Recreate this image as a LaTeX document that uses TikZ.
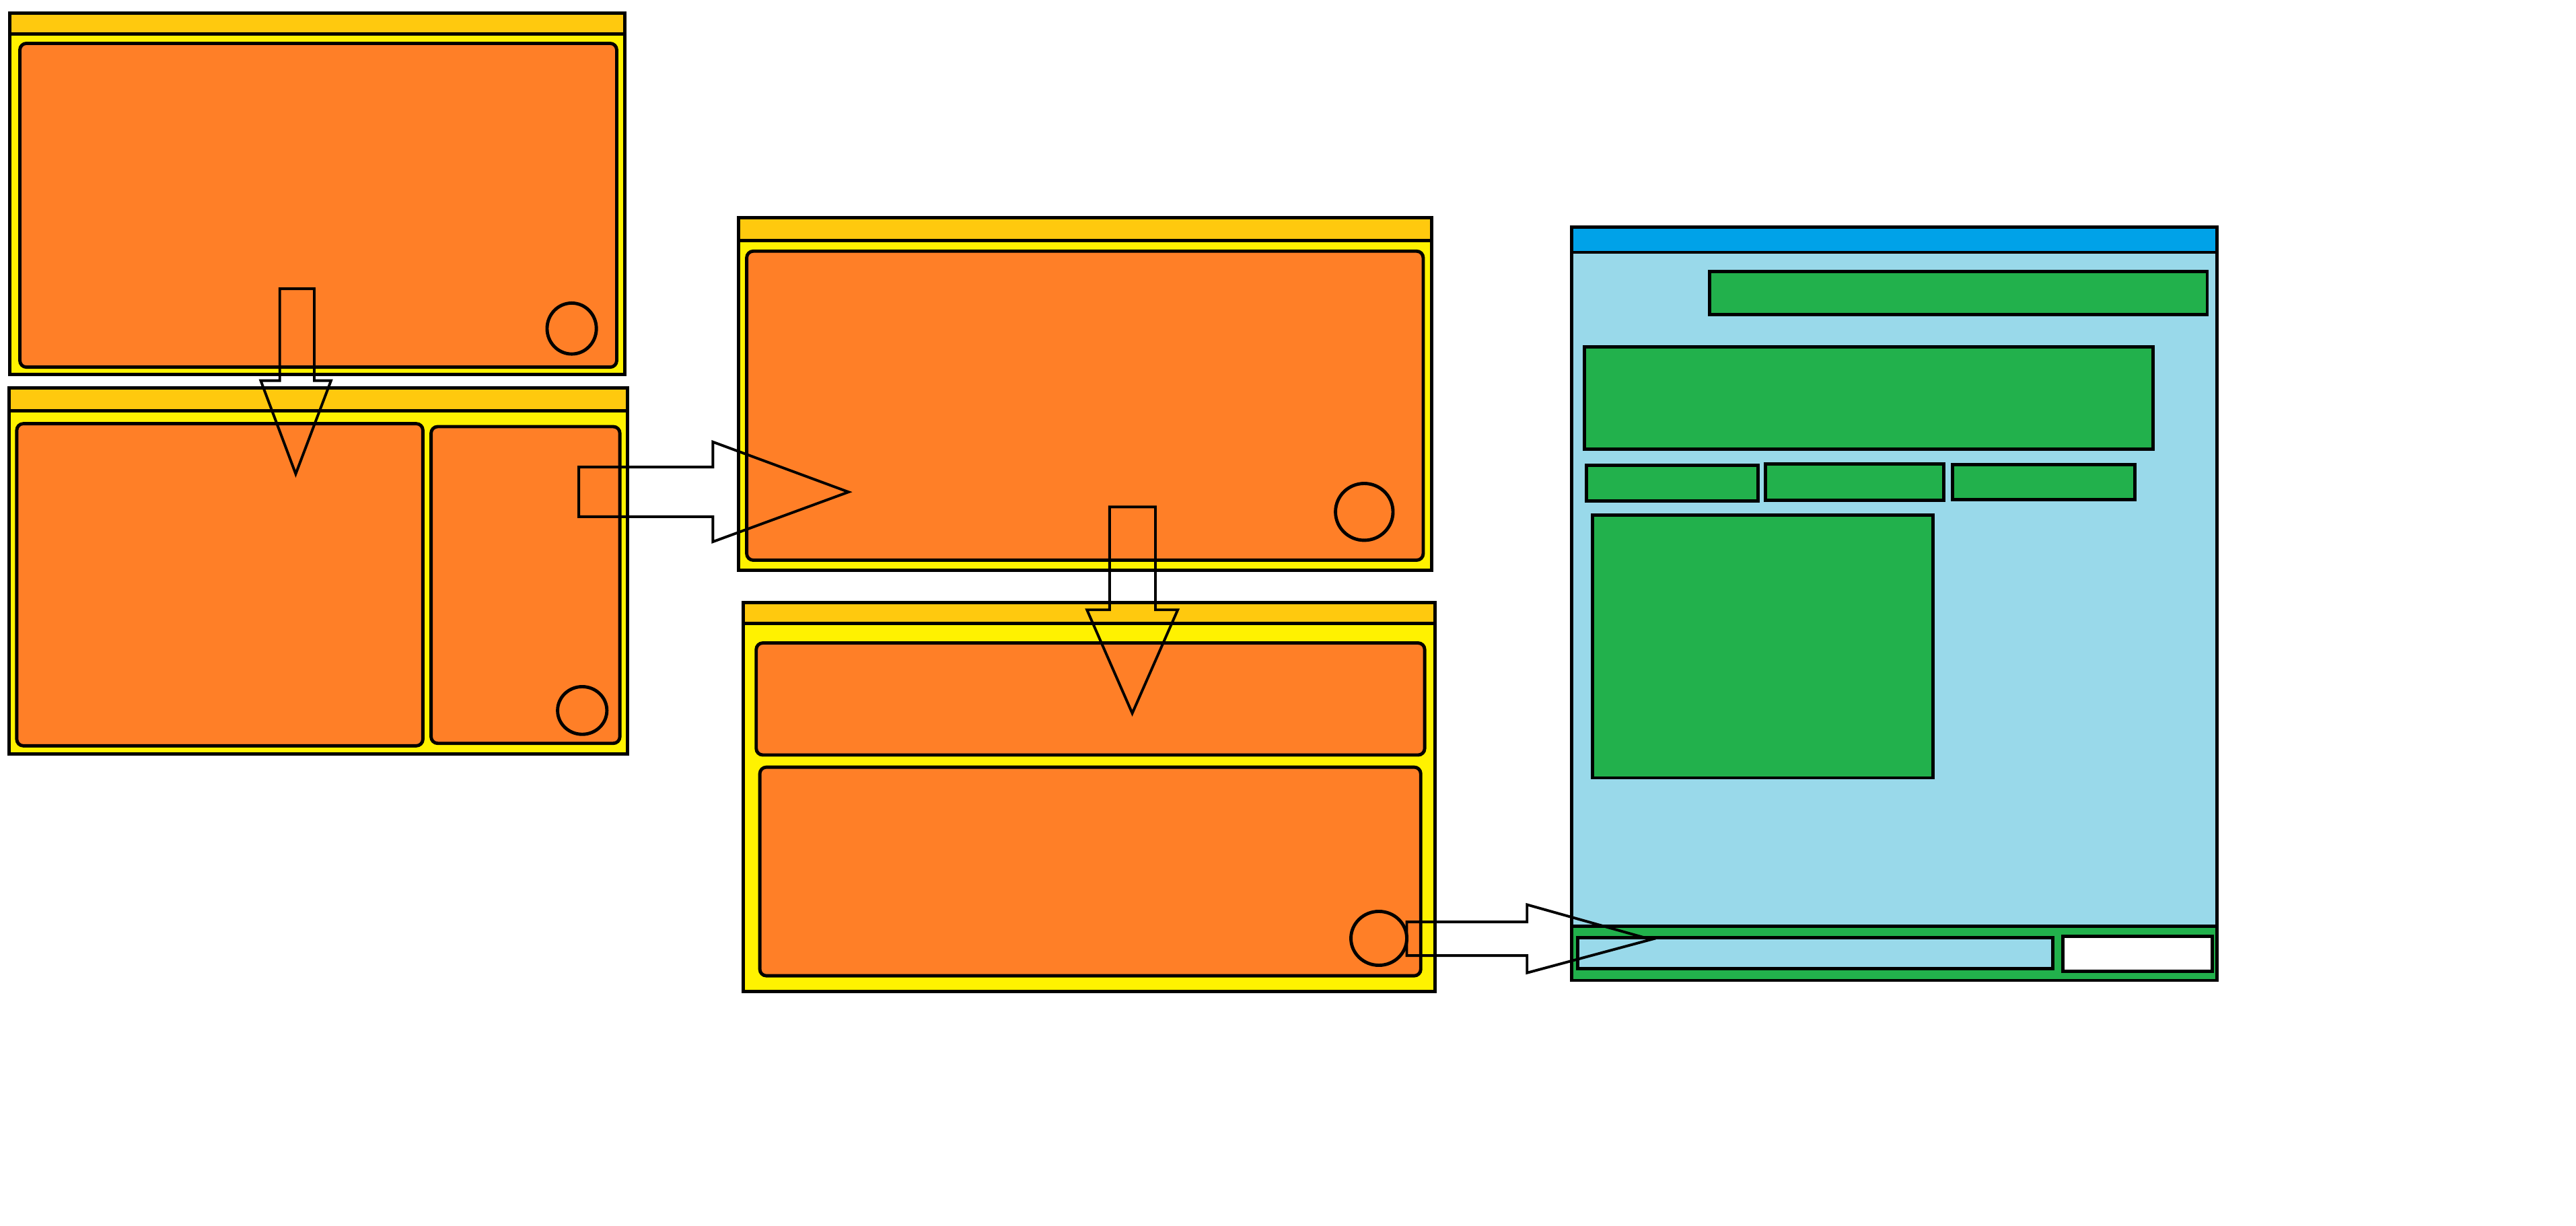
\documentclass[tikz,border=0pt]{standalone}
\usetikzlibrary{shapes.geometric}
\definecolor{ttl}{HTML}{FFC90E}
\definecolor{bdy}{HTML}{FFF200}
\definecolor{org}{HTML}{FF7F27}
\definecolor{bttl}{HTML}{00A2E8}
\definecolor{lblue}{HTML}{99D9EA}
\definecolor{grn}{HTML}{22B14C}
\tikzset{
  edge/.style={draw=black, line width=2pt},
  frame/.style={edge, fill=bdy},
  titlebar/.style={edge, fill=ttl},
  pane/.style={edge, fill=org, rounded corners=4pt},
  knob/.style={edge, ellipse, inner sep=0pt, outer sep=0pt},
  blockarrow/.style={draw=black, line width=1.6pt, line join=miter},
  widget/.style={edge, fill=grn},
}
\begin{document}
\begin{tikzpicture}[x=1pt,y=-1pt]
\useasboundingbox (0,0) rectangle (1568,746.3);
% ---------- Panel A ----------
\draw[frame] (6,8) rectangle (380.4,228.1);
\draw[titlebar] (6,8) rectangle (380.4,20.7);
\draw[pane] (12.1,26.4) rectangle (375.4,223.5);
\node[knob, minimum width=30pt, minimum height=31pt] (ka) at (348,200) {};
% ---------- Panel B ----------
\draw[frame] (5.5,236.2) rectangle (382,459);
\draw[titlebar] (5.5,236.2) rectangle (382,250.2);
\draw[pane] (10.2,257.9) rectangle (257.4,454);
\draw[pane] (262.4,259.7) rectangle (377.3,452.5);
\node[knob, minimum width=30pt, minimum height=29pt] (kb) at (354.4,432.5) {};
% ---------- Panel C ----------
\draw[frame] (449.6,132.4) rectangle (871.5,347);
\draw[titlebar] (449.6,132.4) rectangle (871.5,146.3);
\draw[pane] (454.5,152.9) rectangle (866.3,341);
\node[knob, minimum width=35pt, minimum height=34.6pt] (kc) at (830.4,311.6) {};
% ---------- Panel D ----------
\draw[frame] (452.5,366.9) rectangle (873.5,603.5);
\draw[titlebar] (452.5,366.9) rectangle (873.5,379.5);
\draw[pane] (460.3,391.4) rectangle (867.2,459.6);
\draw[pane] (462.5,467) rectangle (864.8,594);
\node[knob, minimum width=34pt, minimum height=32.8pt] (kd) at (839.3,571.2) {};
% ---------- Panel E ----------
\draw[edge, fill=lblue] (956.5,138.2) rectangle (1349.5,596.8);
\draw[edge, fill=bttl] (956.5,138.2) rectangle (1349.5,153.6);
\draw[widget] (1040.5,165.2) rectangle (1343.5,191.5);
\draw[widget] (964.5,211) rectangle (1310.5,273.4);
\draw[widget] (965.5,283.3) rectangle (1070,304.8);
\draw[widget] (1074.5,282.3) rectangle (1183,304.4);
\draw[widget] (1188.5,283) rectangle (1299.5,304);
\draw[widget] (969.5,313.4) rectangle (1176.5,473.5);
\draw[widget] (956.5,564) rectangle (1349.5,596.8);
\draw[edge, fill=lblue] (960.5,570.7) rectangle (1249.5,589.6);
\draw[edge, fill=white] (1255.5,569.9) rectangle (1346.5,591.2);
% ---------- Block arrows ----------
% A -> B
\coordinate (ab) at (180.8,175.8);
\draw[blockarrow] (170.3,175.8) -- (191.3,175.8) -- (191.3,231.7) -- (201.5,231.7)
  -- (180,288.5) -- (158.7,231.7) -- (170.3,231.7) -- cycle;
% B -> C
\draw[blockarrow] (352.3,284.3) -- (433.9,284.3) -- (433.9,269) -- (516.5,299.5)
  -- (433.9,329.8) -- (433.9,314.5) -- (352.3,314.5) -- cycle;
% C -> D
\draw[blockarrow] (675.4,308.6) -- (703.3,308.6) -- (703.3,371.2) -- (716.9,371.2)
  -- (689.2,434.2) -- (661.6,371.2) -- (675.4,371.2) -- cycle;
% D -> E
\draw[blockarrow] (kd.east |- 0,561.2) -- (929.5,561.2) -- (929.5,550.7) -- (1005,571.9)
  -- (929.5,592.2) -- (929.5,581.7) -- (kd.east |- 0,581.7) -- cycle;
\end{tikzpicture}
\end{document}
